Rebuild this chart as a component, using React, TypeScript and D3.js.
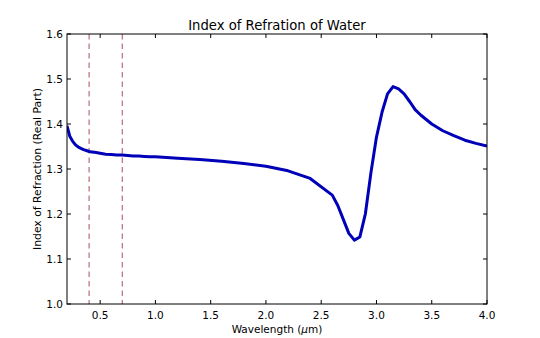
import React from "react";
import * as d3 from "d3";

const wavelength = [0.2, 0.225, 0.25, 0.275, 0.3, 0.325, 0.35, 0.375, 0.4, 0.425, 0.45, 0.475, 0.5, 0.55, 0.6, 0.65, 0.7, 0.75, 0.8, 0.85, 0.9, 0.95, 1.0, 1.2, 1.4, 1.6, 1.8, 2.0, 2.2, 2.4, 2.6, 2.65, 2.7, 2.75, 2.8, 2.85, 2.9, 2.95, 3.0, 3.05, 3.1, 3.15, 3.2, 3.25, 3.3, 3.35, 3.4, 3.45, 3.5, 3.6, 3.7, 3.8, 3.9, 4.0];
const refIndex = [1.396, 1.373, 1.362, 1.354, 1.349, 1.346, 1.343, 1.341, 1.339, 1.338, 1.337, 1.336, 1.335, 1.333, 1.332, 1.331, 1.331, 1.33, 1.329, 1.329, 1.328, 1.327, 1.327, 1.324, 1.321, 1.317, 1.312, 1.306, 1.296, 1.279, 1.242, 1.219, 1.188, 1.157, 1.142, 1.149, 1.201, 1.292, 1.371, 1.426, 1.467, 1.483, 1.478, 1.467, 1.45, 1.432, 1.42, 1.41, 1.4, 1.385, 1.374, 1.364, 1.357, 1.351];
const visibleBounds = [0.4, 0.7];
const xTicks = [0.5, 1.0, 1.5, 2.0, 2.5, 3.0, 3.5, 4.0];
const yTicks = [1.0, 1.1, 1.2, 1.3, 1.4, 1.5, 1.6];

export default function App() {
  const W = 540, H = 338;
  const L = 67, R = 487, T = 34, B = 304;
  const x = d3.scaleLinear().domain([0.2, 4.0]).range([L, R]);
  const y = d3.scaleLinear().domain([1.0, 1.6]).range([B, T]);
  const pts: [number, number][] = wavelength.map((w, i) => [w, refIndex[i]]);
  const line = d3.line<[number, number]>().x(d => x(d[0])).y(d => y(d[1]));
  const font = "DejaVu Sans, sans-serif";
  return (
    <svg width={W} height={H} style={{ position: "absolute", left: 0, top: 0 }} fontFamily={font}>
      <rect x={0} y={0} width={W} height={H} fill="#fff" />
      <defs>
        <clipPath id="plot"><rect x={L} y={T} width={R - L} height={B - T} /></clipPath>
      </defs>
      {visibleBounds.map(v => (
        <line key={v} x1={x(v)} x2={x(v)} y1={T} y2={B} stroke="#b0606a" strokeWidth={1.1} strokeDasharray="5.5,4" />
      ))}
      <path d={line(pts) ?? ""} fill="none" stroke="#0000b8" strokeWidth={3} strokeLinejoin="round" clipPath="url(#plot)" />
      <rect x={L} y={T} width={R - L} height={B - T} fill="none" stroke="#000" strokeWidth={1} />
      {xTicks.map(t => (
        <g key={t}>
          <line x1={x(t)} x2={x(t)} y1={B} y2={B - 4} stroke="#000" />
          <line x1={x(t)} x2={x(t)} y1={T} y2={T + 4} stroke="#000" />
          <text x={x(t)} y={B + 14.5} fontSize={10.5} textAnchor="middle">{t.toFixed(1)}</text>
        </g>
      ))}
      {yTicks.map(t => (
        <g key={t}>
          <line x1={L} x2={L + 4} y1={y(t)} y2={y(t)} stroke="#000" />
          <line x1={R} x2={R - 4} y1={y(t)} y2={y(t)} stroke="#000" />
          <text x={L - 4} y={y(t) + 4} fontSize={10.5} textAnchor="end">{t.toFixed(1)}</text>
        </g>
      ))}
      <text x={(L + R) / 2} y={30} fontSize={13.2} textAnchor="middle">Index of Refration of Water</text>
      <text x={(L + R) / 2} y={332.5} fontSize={10.5} textAnchor="middle">Wavelength (<tspan fontStyle="italic">μ</tspan>m)</text>
      <text transform={`translate(40.5,${(T + B) / 2}) rotate(-90)`} fontSize={10.8} textAnchor="middle">Index of Refraction (Real Part)</text>
    </svg>
  );
}
